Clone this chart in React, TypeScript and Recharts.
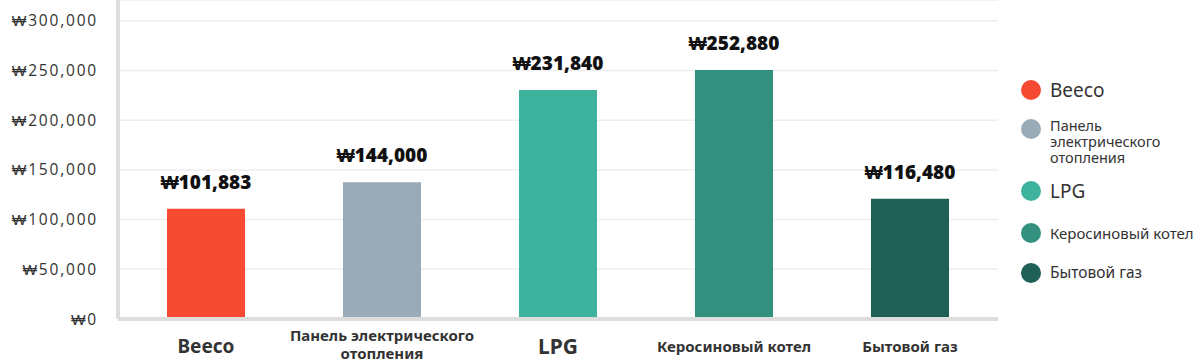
import { BarChart, Bar, XAxis, YAxis, CartesianGrid, Cell, LabelList } from "recharts";

const categories = ["Beeco", "Панель электрического отопления", "LPG", "Керосиновый котел", "Бытовой газ"];
const barValues = [111000, 137500, 230500, 250500, 121000];
const priceLabels = ["₩101,883", "₩144,000", "₩231,840", "₩252,880", "₩116,480"];
const yTicks = [0, 50000, 100000, 150000, 200000, 250000, 300000];
const colors = ["#F64A33", "#9AABB8", "#3DB39E", "#33907F", "#1E6055"];

// per-category text sizes (tick + legend)
const tickFont = [19, 15, 21, 15, 15];
const legendFont = [19, 14.5, 19, 15, 15.5];
const legendTop = [90, 129, 191, 233, 273];

const chartData = categories.map((name, i) => ({ name, value: barValues[i], label: priceLabels[i] }));

const fmtWon = (v: number) => "₩" + v.toLocaleString("en-US");

const splitName = (s: string) => {
  if (s.length <= 20) return [s];
  const cut = s.lastIndexOf(" ");
  return [s.slice(0, cut), s.slice(cut + 1)];
};

function XTick(props: any) {
  const { x, y, payload, index } = props;
  const lines = splitName(payload.value);
  const size = tickFont[index] ?? 15;
  const startY = lines.length > 1 ? y + 14 : y + 25;
  return (
    <g>
      {lines.map((ln, i) => (
        <text
          key={i}
          x={x}
          y={startY + i * 18}
          textAnchor="middle"
          dominantBaseline="central"
          fill="#333"
          fontSize={size}
          fontWeight={700}
          fontFamily="'Noto Sans', sans-serif"
        >
          {ln}
        </text>
      ))}
    </g>
  );
}

function SideLegend() {
  return (
    <div style={{ position: "absolute", left: 0, top: 0, width: 1200, height: 362, pointerEvents: "none" }}>
      {categories.map((name, i) => {
        const lines = name.length > 20 ? ["Панель", "электрического", "отопления"] : [name];
        return (
          <div key={name}>
            <div
              style={{
                position: "absolute",
                left: 1021,
                top: legendTop[i] - 10,
                width: 20,
                height: 20,
                borderRadius: 10,
                background: colors[i],
              }}
            />
            <div
              style={{
                position: "absolute",
                left: 1050,
                top: lines.length > 1 ? legendTop[i] - 12.5 : legendTop[i] - legendFont[i] * 0.7,
                fontFamily: "'Noto Sans', sans-serif",
                fontSize: legendFont[i],
                lineHeight: lines.length > 1 ? "16px" : `${legendFont[i] * 1.4}px`,
                color: "#333",
                whiteSpace: "nowrap",
              }}
            >
              {lines.map((l) => (
                <div key={l}>{l}</div>
              ))}
            </div>
          </div>
        );
      })}
    </div>
  );
}

export default function App() {
  return (
    <div style={{ position: "absolute", left: 0, top: 0, width: 1200, height: 362, background: "#fff" }}>
      <BarChart width={1200} height={362} data={chartData} margin={{ top: 0, right: 202, left: 0, bottom: 0 }}>
        <CartesianGrid vertical={false} stroke="#eeeeee" strokeWidth={1.5} />
        <XAxis
          dataKey="name"
          height={43}
          interval={0}
          tickLine={false}
          tickSize={0}
          axisLine={{ stroke: "#dddddd", strokeWidth: 4 }}
          tick={<XTick />}
        />
        <YAxis
          width={118}
          domain={[0, 321000]}
          ticks={yTicks}
          tickFormatter={fmtWon}
          tickLine={false}
          tickSize={0}
          tickMargin={20}
          axisLine={{ stroke: "#dddddd", strokeWidth: 4 }}
          tick={{ fill: "#333", fontSize: 15.5, fontFamily: "'Open Sans', sans-serif", letterSpacing: 1.8 }}
        />
        <Bar dataKey="value" barSize={78} isAnimationActive={false}>
          {chartData.map((d, i) => (
            <Cell key={d.name} fill={colors[i]} />
          ))}
          <LabelList
            dataKey="label"
            position="top"
            offset={20}
            fill="#111"
            fontSize={19}
            fontWeight={800}
            fontFamily="'Open Sans', sans-serif"
          />
        </Bar>
      </BarChart>
      <SideLegend />
    </div>
  );
}
